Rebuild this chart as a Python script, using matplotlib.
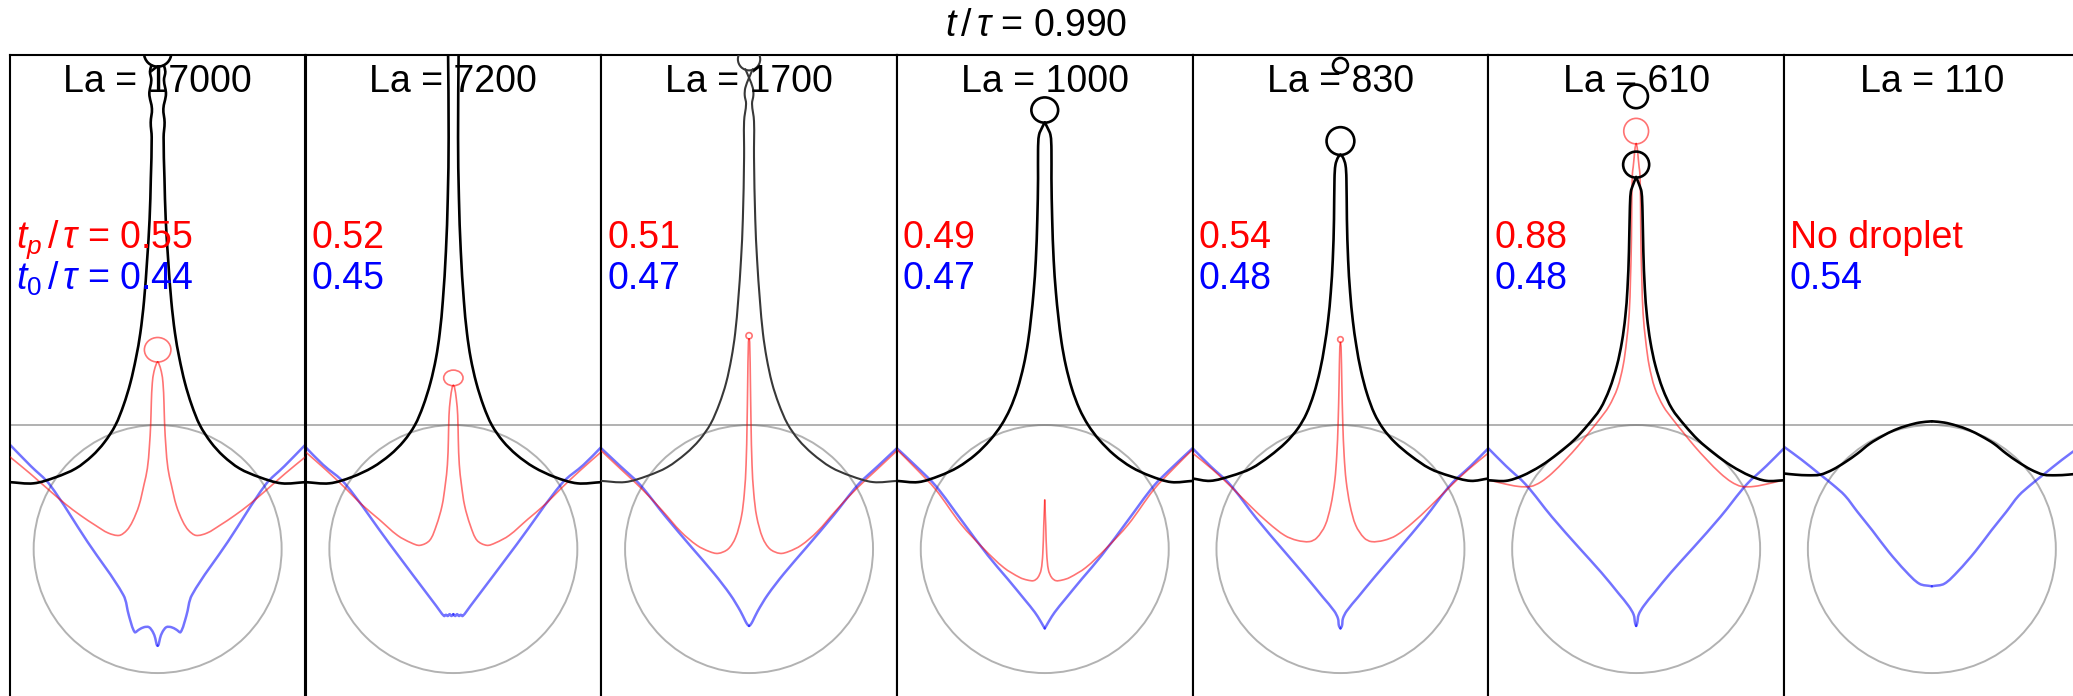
import math
import matplotlib
matplotlib.use("Agg")
import matplotlib.pyplot as plt
from matplotlib.patches import Ellipse, Circle, PathPatch
from matplotlib.path import Path

plt.rcParams['font.family'] = ['Liberation Sans', 'DejaVu Sans']
plt.rcParams['mathtext.fontset'] = 'custom'
plt.rcParams['mathtext.rm'] = 'Liberation Sans'
plt.rcParams['mathtext.it'] = 'Liberation Sans:italic'
plt.rcParams['mathtext.bf'] = 'Liberation Sans:bold'

# ---- run parameters -------------------------------------------------------
TIME = "0.990"
LA = ["17000", "7200", "1700", "1000", "830", "610", "110"]
T_PINCH = ["0.55", "0.52", "0.51", "0.49", "0.54", "0.88", None]
T_ZERO = ["0.44", "0.45", "0.47", "0.47", "0.48", "0.48", "0.54"]

# ---- interface profiles, right half (r >= 0), in units of bubble radius ----
# black: interface at t/tau, red: at pinch-off time t_p, blue: at t_0
bk1_x = [0.05, 0.062, 0.051, 0.067, 0.046, 0.056, 0.048, 0.055, 0.065, 0.085, 0.11, 0.14,
         0.175, 0.22, 0.275, 0.34, 0.43, 0.53, 0.66, 0.82, 1.00, 1.20]
bk1_z = [3.90, 3.85, 3.78, 3.67, 3.55, 3.44, 3.32, 2.99, 2.66, 2.33, 2.00, 1.74,
         1.54, 1.34, 1.16, 1.00, 0.86, 0.75, 0.65, 0.58, 0.53, 0.54]
rd1_x = [0.0, 0.008, 0.030, 0.043, 0.051, 0.056, 0.067, 0.083, 0.110, 0.151, 0.204, 0.25,
         0.31, 0.40, 0.50, 0.62, 0.74, 0.87, 1.03, 1.20]
rd1_z = [1.51, 1.50, 1.43, 1.34, 1.18, 1.01, 0.82, 0.65, 0.52, 0.35, 0.22, 0.15,
         0.11, 0.13, 0.19, 0.27, 0.36, 0.47, 0.61, 0.75]
bl1_x = [0.0, 0.008, 0.019, 0.038, 0.070, 0.110, 0.151, 0.185, 0.231, 0.277, 0.567, 0.871, 1.024, 1.20]
bl1_z = [-0.78, -0.77, -0.72, -0.67, -0.63, -0.63, -0.65, -0.67, -0.54, -0.37, 0.06, 0.52, 0.67, 0.85]

bk2_x = [0.043, 0.038, 0.045, 0.06, 0.085, 0.11, 0.14, 0.185, 0.245, 0.31, 0.40, 0.51,
         0.65, 0.82, 1.00, 1.20]
bk2_z = [4.05, 3.32, 2.83, 2.40, 2.00, 1.74, 1.54, 1.34, 1.15, 1.00, 0.87, 0.76,
         0.66, 0.58, 0.53, 0.54]
rd2_x = [0.0, 0.008, 0.024, 0.035, 0.040, 0.048, 0.065, 0.091, 0.137, 0.191, 0.27, 0.34,
         0.45, 0.60, 0.74, 0.87, 1.03, 1.20]
rd2_z = [1.32, 1.31, 1.21, 1.08, 0.88, 0.68, 0.52, 0.35, 0.19, 0.07, 0.03, 0.05,
         0.11, 0.24, 0.36, 0.49, 0.64, 0.79]
bl2_x = [0.0, 0.015, 0.030, 0.045, 0.060, 0.075, 0.137, 0.513, 0.876, 1.051, 1.20]
bl2_z = [-0.525, -0.54, -0.525, -0.54, -0.53, -0.54, -0.46, 0.04, 0.53, 0.68, 0.83]

bk3_x = [-0.03, 0.0, 0.030, 0.035, 0.024, 0.040, 0.040, 0.05, 0.065, 0.088, 0.112, 0.142,
         0.185, 0.24, 0.31, 0.40, 0.51, 0.66, 0.82, 1.00, 1.20]
bk3_z = [3.87, 3.80, 3.72, 3.66, 3.59, 3.45, 3.16, 2.66, 2.33, 2.00, 1.74, 1.54,
         1.34, 1.17, 1.01, 0.88, 0.77, 0.66, 0.59, 0.54, 0.55]
rd3_x = [0.0, 0.005, 0.011, 0.016, 0.024, 0.038, 0.062, 0.110, 0.169, 0.25, 0.32, 0.42,
         0.55, 0.70, 0.87, 1.03, 1.20]
rd3_z = [1.695, 1.67, 1.34, 1.01, 0.68, 0.45, 0.26, 0.09, 0.00, -0.035, -0.02, 0.03,
         0.14, 0.31, 0.49, 0.64, 0.80]
bl3_x = [0.0, 0.012, 0.03, 0.07, 0.15, 0.28, 0.46, 0.68, 0.88, 1.04, 1.20]
bl3_z = [-0.62, -0.61, -0.58, -0.50, -0.37, -0.20, 0.01, 0.27, 0.52, 0.67, 0.82]

bk4_x = [0.0, 0.016, 0.046, 0.054, 0.054, 0.06, 0.072, 0.09, 0.11, 0.135, 0.17, 0.22,
         0.28, 0.35, 0.44, 0.56, 0.70, 0.85, 1.02, 1.20]
bk4_z = [3.44, 3.41, 3.34, 3.22, 2.99, 2.66, 2.33, 2.07, 1.87, 1.67, 1.48, 1.29,
         1.13, 1.00, 0.88, 0.76, 0.66, 0.59, 0.54, 0.55]
rd4_x = [0.0, 0.008, 0.016, 0.030, 0.056, 0.09, 0.14, 0.20, 0.33, 0.49, 0.675, 0.88, 1.04, 1.20]
rd4_z = [0.395, 0.19, -0.04, -0.17, -0.23, -0.255, -0.25, -0.23, -0.15, 0.00, 0.20, 0.48, 0.65, 0.81]
bl4_x = [0.0, 0.012, 0.035, 0.08, 0.16, 0.30, 0.46, 0.67, 0.88, 1.04, 1.20]
bl4_z = [-0.64, -0.62, -0.58, -0.51, -0.41, -0.24, -0.05, 0.23, 0.51, 0.67, 0.82]

bk5_x = [0.0, 0.019, 0.040, 0.048, 0.052, 0.062, 0.078, 0.10, 0.128, 0.165, 0.215, 0.275,
         0.345, 0.44, 0.57, 0.72, 0.88, 1.05, 1.20]
bk5_z = [3.18, 3.16, 3.10, 2.99, 2.66, 2.33, 2.07, 1.84, 1.64, 1.44, 1.25, 1.09,
         0.97, 0.86, 0.75, 0.65, 0.59, 0.55, 0.57]
rd5_x = [0.0, 0.005, 0.011, 0.019, 0.030, 0.046, 0.078, 0.124, 0.191, 0.25, 0.35, 0.45,
         0.58, 0.72, 0.87, 1.03, 1.20]
rd5_z = [1.665, 1.63, 1.34, 1.01, 0.75, 0.55, 0.35, 0.19, 0.09, 0.06, 0.07, 0.11,
         0.21, 0.34, 0.49, 0.64, 0.78]
bl5_x = [0.0, 0.012, 0.02, 0.05, 0.14, 0.28, 0.46, 0.68, 0.89, 1.05, 1.20]
bl5_z = [-0.64, -0.62, -0.56, -0.50, -0.39, -0.22, -0.01, 0.25, 0.52, 0.67, 0.82]

bk6_x = [0.0, 0.024, 0.043, 0.051, 0.058, 0.07, 0.088, 0.115, 0.155, 0.215, 0.29, 0.39,
         0.50, 0.63, 0.77, 0.92, 1.05, 1.20]
bk6_z = [3.00, 2.94, 2.88, 2.73, 2.40, 2.10, 1.87, 1.67, 1.48, 1.29, 1.13, 1.00,
         0.88, 0.77, 0.67, 0.59, 0.55, 0.555]
rd6_x = [0.0, 0.008, 0.016, 0.024, 0.030, 0.035, 0.038, 0.046, 0.056, 0.078, 0.105, 0.15,
         0.22, 0.30, 0.38, 0.47, 0.57, 0.68, 0.77, 0.85, 0.95, 1.08, 1.20]
rd6_z = [3.27, 3.24, 3.16, 3.08, 3.03, 2.83, 2.50, 2.17, 1.90, 1.67, 1.48, 1.30,
         1.15, 1.04, 0.94, 0.83, 0.72, 0.61, 0.54, 0.505, 0.505, 0.53, 0.56]
bl6_x = [0.0, 0.008, 0.02, 0.06, 0.14, 0.28, 0.46, 0.68, 0.89, 1.05, 1.20]
bl6_z = [-0.62, -0.60, -0.53, -0.46, -0.36, -0.19, 0.01, 0.26, 0.52, 0.67, 0.82]

bk7_x = [0.0, 0.1, 0.2, 0.3, 0.4, 0.5, 0.6, 0.7, 0.8, 0.9, 1.0, 1.1, 1.2]
bk7_z = [1.03, 1.02, 0.995, 0.96, 0.91, 0.85, 0.77, 0.70, 0.64, 0.60, 0.595, 0.60, 0.61]
bl7_x = [0.0, 0.10, 0.21, 0.35, 0.48, 0.60, 0.70, 0.80, 0.90, 1.05, 1.20]
bl7_z = [-0.30, -0.28, -0.18, -0.02, 0.15, 0.30, 0.43, 0.52, 0.60, 0.72, 0.83]

# drops / bulbs on the axis: (z centre, width, height)
bk_drops = [[(4.00, 0.22, 0.22)], [], [(3.95, 0.18, 0.18)], [(3.54, 0.216, 0.204)],
            [(3.29, 0.224, 0.224), (3.90, 0.12, 0.12)], [(3.10, 0.21, 0.21), (3.65, 0.19, 0.19)], []]
rd_drops = [[(1.607, 0.214, 0.198)], [(1.38, 0.156, 0.126)], [(1.72, 0.05, 0.05)], [],
            [(1.69, 0.045, 0.045)], [(3.37, 0.20, 0.206)], []]

black = [(bk1_x, bk1_z), (bk2_x, bk2_z), (bk3_x, bk3_z), (bk4_x, bk4_z),
         (bk5_x, bk5_z), (bk6_x, bk6_z), (bk7_x, bk7_z)]
red = [(rd1_x, rd1_z), (rd2_x, rd2_z), (rd3_x, rd3_z), (rd4_x, rd4_z),
       (rd5_x, rd5_z), (rd6_x, rd6_z), None]
blue = [(bl1_x, bl1_z), (bl2_x, bl2_z), (bl3_x, bl3_z), (bl4_x, bl4_z),
        (bl5_x, bl5_z), (bl6_x, bl6_z), (bl7_x, bl7_z)]

# ---- figure layout ----------------------------------------------------------
W, H = 2073, 696
fig = plt.figure(figsize=(W / 100, H / 100), dpi=100)
PANEL_W = 295.7
LEFT0 = 9.8
TOP = 55.0
XHALF = 1.1925
ZLO, ZHI = -1.185, 3.984

BLACK = dict(ec='black', lw=1.9, alpha=1.0, zorder=4)
BLACK_THIN = dict(ec=(0.22, 0.22, 0.22), lw=1.5, alpha=1.0, zorder=4)
RED = dict(ec=(1, 0, 0), lw=1.2, alpha=0.55, zorder=3)
BLUE = dict(ec=(0, 0, 1), lw=1.8, alpha=0.55, zorder=2)
GRAY = dict(color=(0.45, 0.45, 0.45), alpha=0.55, lw=1.4, zorder=1)


def smooth_path(xs, zs):
    """Cubic Bezier path through the given profile points (chord-weighted tangents)."""
    pts = list(zip(xs, zs))
    n = len(pts)
    tang = []
    for i in range(n):
        p0 = pts[max(i - 1, 0)]
        p1 = pts[i]
        p2 = pts[min(i + 1, n - 1)]
        d = math.dist(p0, p1) + math.dist(p1, p2)
        tang.append(((p2[0] - p0[0]) / d, (p2[1] - p0[1]) / d))
    verts = [pts[0]]
    codes = [Path.MOVETO]
    for i in range(n - 1):
        a, b = pts[i], pts[i + 1]
        L = math.dist(a, b) / 3.0
        verts += [(a[0] + tang[i][0] * L, a[1] + tang[i][1] * L),
                  (b[0] - tang[i + 1][0] * L, b[1] - tang[i + 1][1] * L), b]
        codes += [Path.CURVE4] * 3
    return Path(verts, codes)


def both_sides(ax, xs, zs, style):
    for sign in (1, -1):
        ax.add_patch(PathPatch(smooth_path([sign * v for v in xs], zs), fill=False,
                               capstyle='round', joinstyle='round', **style))


for i in range(7):
    ax = fig.add_axes([(LEFT0 + i * PANEL_W) / W, 0.0, PANEL_W / W, (H - TOP) / H])
    ax.set_xlim(-XHALF, XHALF)
    ax.set_ylim(ZLO, ZHI)
    ax.set_xticks([])
    ax.set_yticks([])
    for side in ('left', 'right', 'top'):
        ax.spines[side].set_linewidth(1.5)
    ax.spines['bottom'].set_visible(False)

    # initial bubble and undisturbed free surface
    ax.add_patch(Circle((0, 0), 1.0, fill=False, ec=GRAY['color'], alpha=GRAY['alpha'],
                        lw=GRAY['lw'], zorder=1))
    ax.axhline(1.0, **GRAY)

    black_style = BLACK_THIN if LA[i] == "1700" else BLACK

    both_sides(ax, *blue[i], BLUE)
    if red[i] is not None:
        both_sides(ax, *red[i], RED)
    both_sides(ax, *black[i], black_style)

    for zc, w, h in bk_drops[i]:
        ax.add_patch(Ellipse((0, zc), w, h, fill=False, **black_style))
    for zc, w, h in rd_drops[i]:
        ax.add_patch(Ellipse((0, zc), w, h, fill=False, **RED))

    ax.text(0, 3.685, f"La = {LA[i]}", ha='center', va='baseline', fontsize=27, zorder=5)

    if i == 0:
        red_txt = r"$t_p\,/\,\tau$ = " + T_PINCH[i]
        blue_txt = r"$t_0\,/\,\tau$ = " + T_ZERO[i]
    else:
        red_txt = T_PINCH[i] if T_PINCH[i] is not None else "No droplet"
        blue_txt = T_ZERO[i]
    ax.text(-1.145, 2.43, red_txt, color='#ff0000', ha='left', va='baseline', fontsize=27, zorder=5)
    ax.text(-1.145, 2.095, blue_txt, color='#0000ff', ha='left', va='baseline', fontsize=27, zorder=5)

fig.text(0.5, 1 - 36 / H, r"$t\,/\,\tau$ = " + TIME, ha='center', va='baseline', fontsize=27)

fig.savefig("out.png", dpi=100)
